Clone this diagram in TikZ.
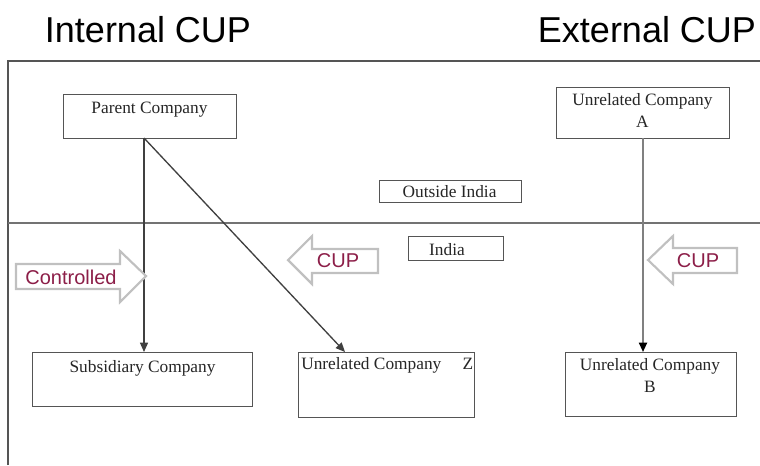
\documentclass[tikz,border=0pt]{standalone}
\usepackage{fontspec}
\setmainfont{Liberation Serif}
\newfontfamily\arialf{Liberation Sans}
\usetikzlibrary{arrows.meta}
\definecolor{cupred}{RGB}{140,30,72}
\definecolor{framegray}{RGB}{85,85,85}
\definecolor{arrowgray}{RGB}{192,192,192}
\tikzset{
  box/.style={draw=framegray, line width=1.1pt, fill=white, rectangle, inner sep=0pt, anchor=north west},
  boxtext/.style={font=\fontsize{13}{15}\selectfont, inner sep=0pt, anchor=base, text=black!85},
  title/.style={font=\arialf\fontsize{27}{30}\selectfont, inner sep=0pt, anchor=base},
  blocklbl/.style={font=\arialf\fontsize{15}{17}\selectfont, text=cupred, inner sep=0pt},
  blockarrow/.style={draw=arrowgray, line width=1.6pt, fill=white, line join=miter},
  conn/.style={draw=black!75, line width=1pt, -{Triangle[length=7pt,width=6pt]}},
  connA/.style={draw=black!50, line width=1.4pt, -{Triangle[length=7pt,width=6pt,black]}},
}
\begin{document}
\begin{tikzpicture}[x=0.75pt,y=-0.75pt]
\useasboundingbox (0,0) rectangle (760,465);
% titles
\node[title] (tint) at (148,42) {Internal CUP};
\node[title] (text) at (647,42) {External CUP};
% frame
\draw[framegray, line width=1.1pt] (8,465) -- (8,61) -- (760,61);
\draw[black!55, line width=1pt] (8,223) -- (760,223);
% boxes
\node[box, minimum width=129.75pt, minimum height=33pt] (parent) at (63,94) {};
\node[boxtext] (parentt) at (149.5,113) {Parent Company};
\node[box, minimum width=129.75pt, minimum height=38.25pt] (compA) at (556,87) {};
\node[boxtext, align=center] (compAt) at (642.5,127) {Unrelated Company\\[1.5pt]A};
\node[box, minimum width=106.5pt, minimum height=16.5pt] (outside) at (379,180) {};
\node[boxtext] (outsidet) at (449.5,197) {Outside India};
\node[box, minimum width=71.25pt, minimum height=18pt] (india) at (408,236) {};
\node[boxtext] (indiat) at (447,255) {India};
\node[box, minimum width=165pt, minimum height=40.5pt] (subs) at (32,352) {};
\node[boxtext] (subst) at (142.5,372) {Subsidiary Company};
\node[box, minimum width=132pt, minimum height=48.75pt] (compZ) at (298,352) {};
\node[boxtext, anchor=base west] (compZt) at (301,369) {\makebox[129pt][l]{Unrelated Company\hfill Z}};
\node[box, minimum width=128.25pt, minimum height=48pt] (compB) at (565,352) {};
\node[boxtext, align=center] (compBt) at (650,392) {Unrelated Company\\[1.5pt]B};
% connectors
\coordinate (pbot) at (144,138);
\coordinate (stop) at (144,352);
\coordinate (ztop) at (345,352);
\coordinate (abot) at (643,138);
\coordinate (btop) at (643,352);
\draw[conn] (pbot) -- (stop);
\draw[conn] (pbot) -- (ztop);
\draw[connA] (abot) -- (btop);
% block arrows
\draw[blockarrow] (16,264) -- (120,264) -- (120,251) -- (146,276) -- (120,302) -- (120,289) -- (16,289) -- cycle;
\node[blocklbl] (ctrl) at (71,277) {Controlled};
\draw[blockarrow] (378,249) -- (312,249) -- (312,236) -- (288,260) -- (312,284) -- (312,273) -- (378,273) -- cycle;
\node[blocklbl] (cup1) at (338,261) {CUP};
\draw[blockarrow] (737,248) -- (673,248) -- (673,236) -- (648,260) -- (673,284) -- (673,273) -- (737,273) -- cycle;
\node[blocklbl] (cup2) at (698,261) {CUP};
\end{tikzpicture}
\end{document}
